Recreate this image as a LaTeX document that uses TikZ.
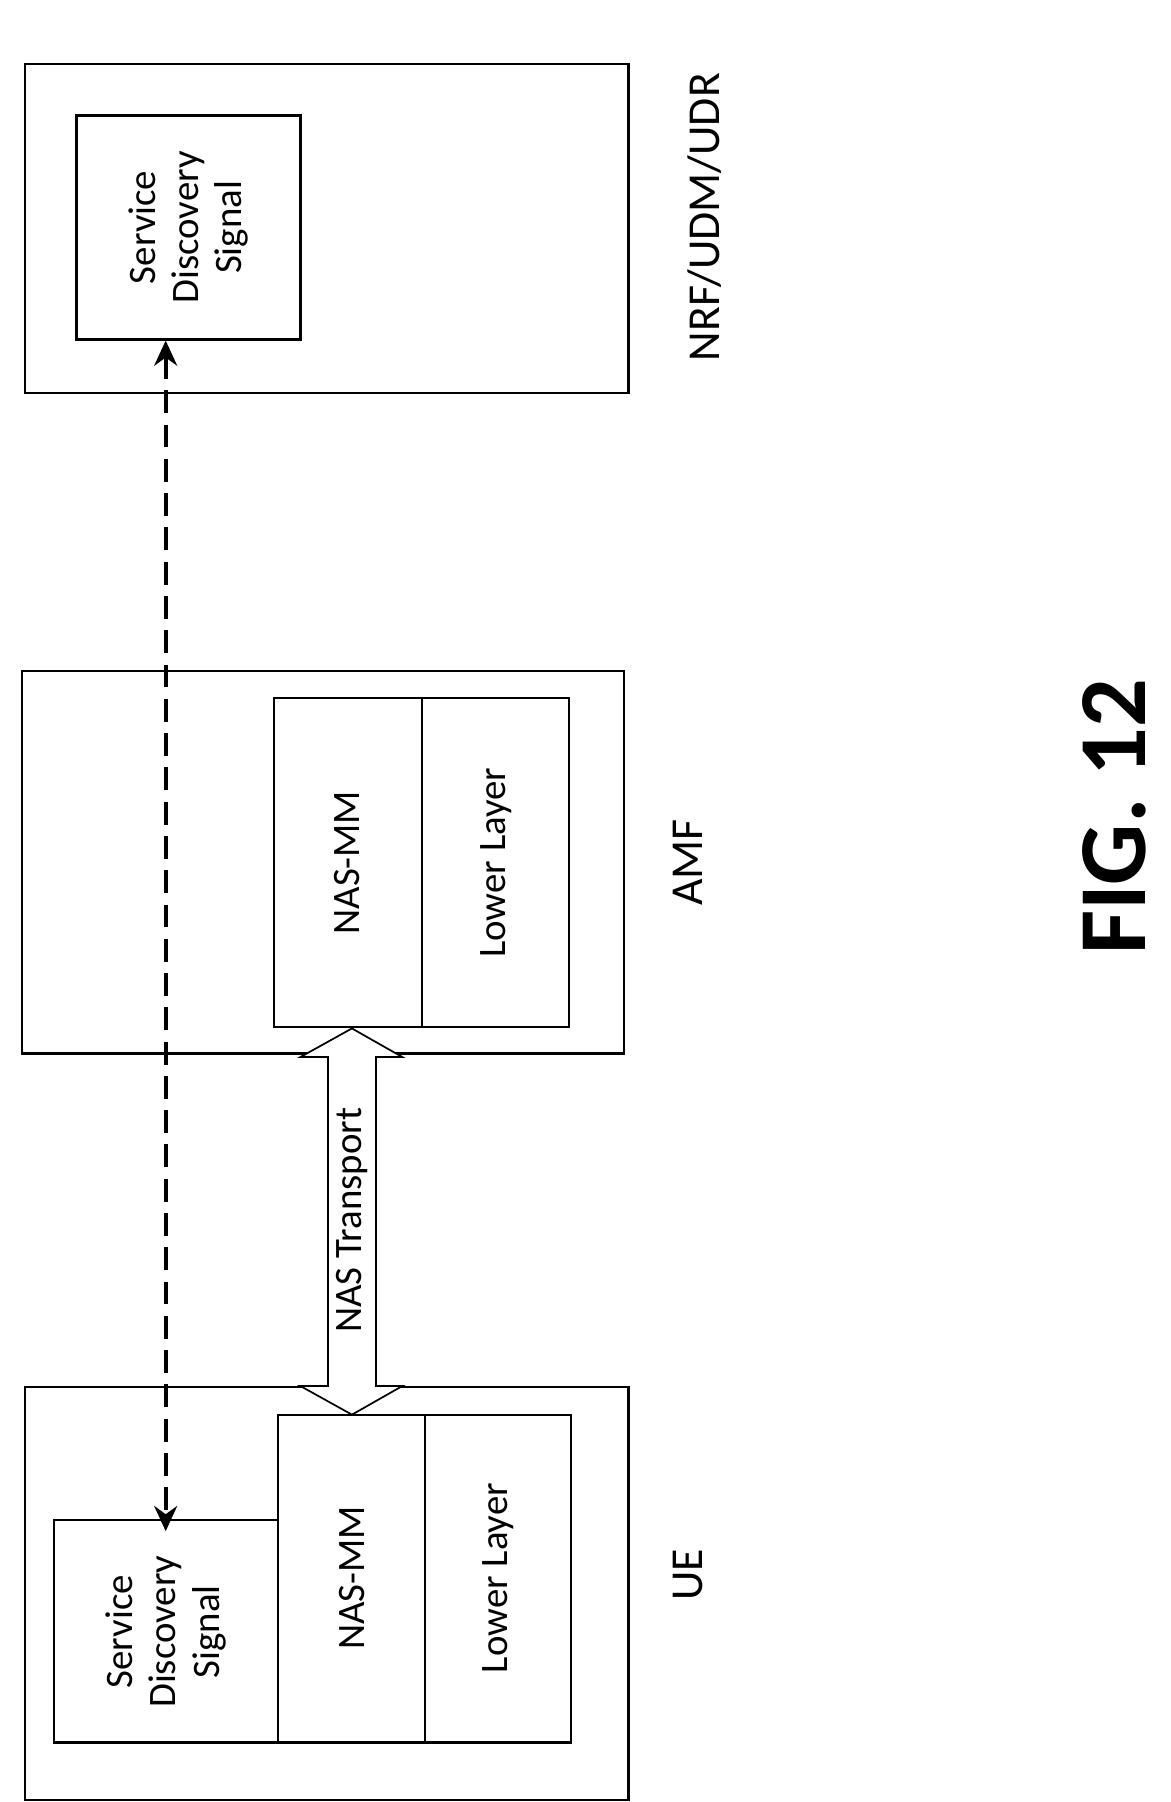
\documentclass[tikz,border=0pt]{standalone}
\usepackage{fontspec}
\setmainfont{Carlito}
\usetikzlibrary{arrows.meta}
\begin{document}
\begin{tikzpicture}[x=1pt,y=-1pt,
  box/.style={draw,line width=2pt,inner sep=0pt},
  txt/.style={rotate=90,font=\fontsize{34}{38}\selectfont,align=center}]
\useasboundingbox (0,0) rectangle (1024,1577);
% NRF
\draw[box] (22,56) rectangle (550,344);
\draw[box] (67,101) rectangle (263,297);
\node[txt] (nsds) at (165,199) {Service\\Discovery\\Signal};
\node[txt,font=\fontsize{40}{44}\selectfont] (lnrf) at (617,190) {NRF/UDM/UDR};
% AMF
\draw[box] (19,587) rectangle (546,922);
\draw[box] (240,611) rectangle (369,899);
\draw[box] (369,611) rectangle (498,899);
\node[txt] (anas) at (304,755) {NAS-MM};
\node[txt] (alow) at (434,755) {Lower Layer};
\node[txt,font=\fontsize{40}{44}\selectfont] (lamf) at (602,755) {AMF};
% UE
\draw[box] (22,1214) rectangle (550,1575);
\draw[box] (47,1330) rectangle (243,1525);
\draw[box] (243,1238) rectangle (372,1525);
\draw[box] (372,1238) rectangle (500,1525);
\node[txt] (usds) at (145,1428) {Service\\Discovery\\Signal};
\node[txt] (unas) at (308,1381) {NAS-MM};
\node[txt] (ulow) at (436,1381) {Lower Layer};
\node[txt,font=\fontsize{40}{44}\selectfont] (lue) at (602,1378) {UE};
% dashed arrow
\coordinate (dtop) at (145,298);
\coordinate (dbot) at (145,1340);
\draw[line width=3.5pt,dash pattern=on 20pt off 10pt,{Stealth[length=22pt,width=20pt]}-{Stealth[length=22pt,width=20pt]}] (dtop) -- (dbot);
% NAS transport
\draw[line width=1.5pt,fill=white] (308,900) -- (352,925) -- (329,925) -- (329,1213) -- (352,1213) -- (308,1238) -- (263,1213) -- (287,1213) -- (287,925) -- (263,925) -- cycle;
\node[txt] (nt) at (308,1068) {NAS Transport};
\node[rotate=90,font=\bfseries\fontsize{84}{86}\selectfont] (fig) at (975,715) {FIG. 12};
\end{tikzpicture}
\end{document}
